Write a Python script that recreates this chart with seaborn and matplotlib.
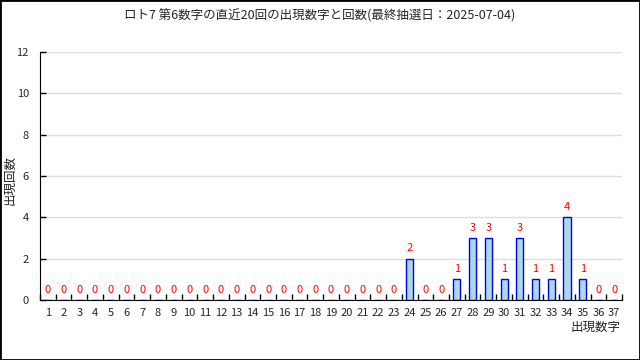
import seaborn as sns
import pandas as pd
import matplotlib.pyplot as plt
from matplotlib.patches import Rectangle

numbers = list(range(1, 38))
counts = [0] * 23 + [2, 0, 0, 1, 3, 3, 1, 3, 1, 1, 4, 1, 0, 0]

df = pd.DataFrame({'number': [str(n) for n in numbers], 'count': counts})

sns.set_style('white')
plt.rcParams['font.family'] = ['Noto Sans CJK JP', 'DejaVu Sans']

fig = plt.figure(figsize=(6.4, 3.6), dpi=100)
ax = fig.add_axes([0.0625, 0.1667, 0.9095, 0.689])

sns.barplot(data=df, x='number', y='count', color='#add8e6', edgecolor='#0000ff',
            linewidth=1, width=0.45, saturation=1, ax=ax)

for i, c in enumerate(counts):
    ax.text(i, c + 0.25, str(c), color='red', ha='center', va='bottom', fontsize=8)

ax.set_ylim(0, 12)
ax.set_xlim(-0.5, len(numbers) - 0.5)
ax.set_yticks(range(0, 13, 2))
ax.yaxis.grid(True, color='#dddddd', linewidth=1)
ax.set_axisbelow(True)
ax.set_xticks([i - 0.5 for i in range(len(numbers) + 1)], minor=True)
ax.tick_params(axis='x', which='major', bottom=False, length=0, labelsize=8, pad=6)
ax.tick_params(axis='x', which='minor', bottom=True, length=4, direction='in', width=1, color='black')
ax.tick_params(axis='y', left=True, length=4, direction='in', width=1, color='black', labelsize=8, pad=8)
for s in ['top', 'right']:
    ax.spines[s].set_visible(False)
for s in ['left', 'bottom']:
    ax.spines[s].set_color('black')

ax.set_xlabel('')
ax.set_ylabel('')
fig.text(0.016, 0.5, '出現回数', rotation=90, ha='center', va='center', fontsize=9)
fig.text(0.97, 0.09, '出現数字', ha='right', va='center', fontsize=9)
fig.suptitle('ロト7 第6数字の直近20回の出現数字と回数(最終抽選日：2025-07-04)', y=0.975, fontsize=9)

fig.patches.append(Rectangle((0, 0), 1, 1, transform=fig.transFigure, fill=False,
                             edgecolor='black', linewidth=2))

plt.savefig('out.png', dpi=100)
